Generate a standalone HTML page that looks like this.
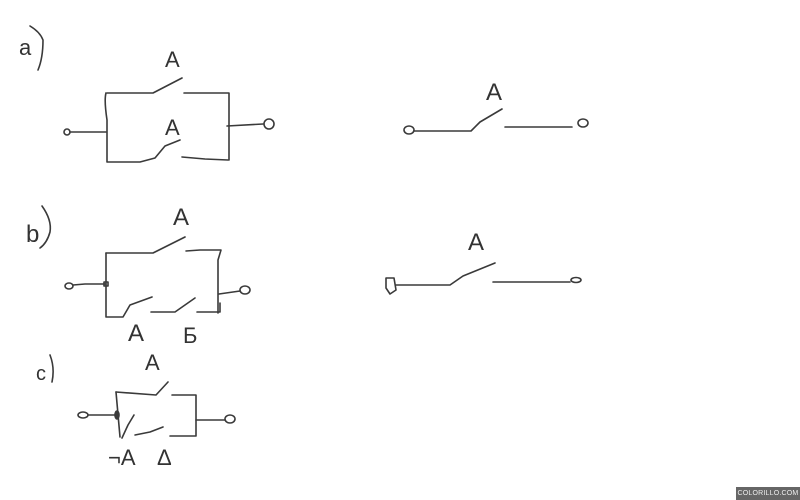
<!DOCTYPE html>
<html><head><meta charset="utf-8"><style>
html,body{margin:0;padding:0;background:#fff;width:800px;height:500px;overflow:hidden}
svg{display:block}
text{font-family:"Liberation Sans","DejaVu Sans",sans-serif;fill:#333;font-weight:normal}
.wm{position:absolute;left:736px;top:487px;width:64px;height:13px;background:#666;color:#eee;font:7px "Liberation Sans",sans-serif;line-height:13px;text-align:center;letter-spacing:0.2px;overflow:hidden;white-space:nowrap}
</style></head><body>
<svg width="800" height="500" viewBox="0 0 800 500" fill="none" stroke="#3a3a3a" stroke-width="1.6" stroke-linecap="round" stroke-linejoin="round">
<!-- a) -->
<text x="19" y="55" font-size="22" stroke="none">a</text>
<path d="M30 26 Q40 32 43 40 Q43 58 38 70"/>
<path d="M107 93 H153 L182 78"/>
<path d="M184 93 H229 V160"/>
<path d="M106 93 Q104 100 107 120 V162 H140 L155 158 L165 146 L180 140"/>
<path d="M182 157 L205 159 L228 160"/>
<circle cx="67" cy="132" r="3"/>
<path d="M70 132 H106"/>
<path d="M227 126 L263 124"/>
<circle cx="269" cy="124" r="5"/>
<text x="165" y="67" font-size="22" stroke="none">A</text>
<text x="165" y="135" font-size="22" stroke="none">A</text>
<!-- a right -->
<ellipse cx="409" cy="130" rx="5" ry="4"/>
<path d="M414 131 H471 L480 122 L502 109"/>
<path d="M505 127 H572"/>
<ellipse cx="583" cy="123" rx="5" ry="4"/>
<text x="486" y="100" font-size="24" stroke="none">A</text>
<!-- b) -->
<text x="26" y="242" font-size="24" stroke="none">b</text>
<path d="M42 206 Q52 220 50 232 Q47 243 40 248"/>
<path d="M106 253 V317 H123 L130 305 L152 297"/>
<path d="M106 253 H153 L185 237"/>
<path d="M186 251 L200 250 H221 L218 260 V313 L218 312"/>
<path d="M151 312 H175 L195 298"/>
<path d="M197 312 H220 V303"/>
<ellipse cx="69" cy="286" rx="4" ry="3"/>
<path d="M73 285 L85 284 L106 284"/>
<rect x="104" y="282" width="4" height="4"/>
<path d="M219 294 L240 291"/>
<ellipse cx="245" cy="290" rx="5" ry="4"/>
<text x="173" y="225" font-size="24" stroke="none">A</text>
<text x="128" y="341" font-size="24" stroke="none">A</text>
<text x="183" y="343" font-size="22" stroke="none">Б</text>
<!-- b right -->
<path d="M386 278 L394 278 L396 290 L390 294 L386 288 Z"/>
<path d="M396 285 H450 L463 276 L495 263"/>
<path d="M493 282 H570"/>
<ellipse cx="576" cy="280" rx="5" ry="2.5"/>
<text x="468" y="250" font-size="24" stroke="none">A</text>
<!-- c) -->
<text x="36" y="380" font-size="20" stroke="none">c</text>
<path d="M50 355 Q55 368 52 382"/>
<path d="M116 392 L156 395 L168 382"/>
<path d="M116 392 L120 437"/>
<path d="M172 395 H196 V436 H170"/>
<path d="M122 438 L128 425 L134 415"/>
<path d="M135 435 L150 432 L163 427"/>
<ellipse cx="83" cy="415" rx="5" ry="3"/>
<path d="M88 415 H116"/>
<ellipse cx="117" cy="415" rx="2" ry="4" fill="#3a3a3a"/>
<path d="M196 420 H225"/>
<ellipse cx="230" cy="419" rx="5" ry="4"/>
<text x="145" y="370" font-size="22" stroke="none">A</text>
<text x="108" y="465" font-size="22" stroke="none">¬A</text>
<text x="157" y="465" font-size="22" stroke="none">Δ</text>
</svg>
<div class="wm">COLORILLO.COM</div>
</body></html>
